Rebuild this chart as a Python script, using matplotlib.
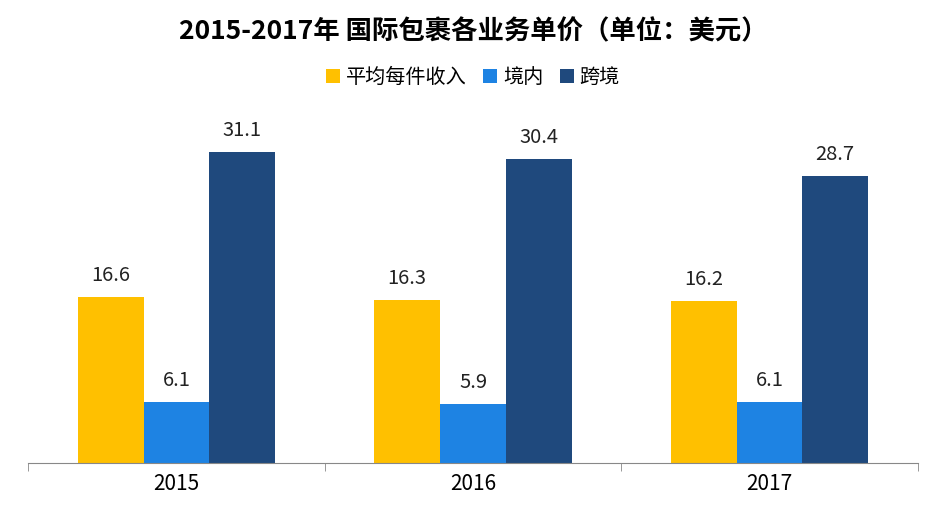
import matplotlib
matplotlib.use("Agg")
import matplotlib.pyplot as plt
import numpy as np

plt.rcParams['font.family'] = ['Noto Sans CJK SC', 'DejaVu Sans']

years = ["2015", "2016", "2017"]
series_names = ["平均每件收入", "境内", "跨境"]
avg = [16.6, 16.3, 16.2]
domestic = [6.1, 5.9, 6.1]
cross = [31.1, 30.4, 28.7]
colors = ["#FFC000", "#1E83E3", "#1F497D"]

fig = plt.figure(figsize=(9.46, 5.25), dpi=100)
ax = fig.add_axes([0.03, 0.118, 0.94, 0.667])
x = np.arange(len(years))
w = 0.222
for i, (vals, name, c) in enumerate(zip([avg, domestic, cross], series_names, colors)):
    bars = ax.bar(x + (i - 1) * w, vals, w, color=c, label=name)
    for b, v in zip(bars, vals):
        ax.text(b.get_x() + b.get_width() / 2, v + 1.1, f"{v}", ha='center', va='bottom', fontsize=14.5, color='#222222')

ax.set_xlim(-0.5, 2.5)
ax.set_ylim(0, 35)
ax.set_xticks(x)
ax.set_xticklabels(years, fontsize=15)
ax.set_xticks([-0.5, 0.5, 1.5, 2.5], minor=True)
ax.tick_params(axis='x', which='major', length=0, pad=7)
ax.tick_params(axis='x', which='minor', length=6, color='#888888')
ax.set_yticks([])
for s in ['left', 'right', 'top']:
    ax.spines[s].set_visible(False)
ax.spines['bottom'].set_color('#888888')

fig.text(0.5, 0.94, "2015-2017年 国际包裹各业务单价（单位：美元）", ha='center', va='center', fontsize=19, fontweight='bold')
fig.legend(loc='center', bbox_to_anchor=(0.5, 0.853), ncol=3, frameon=False, fontsize=14.5,
           handlelength=0.7, handleheight=0.7, handletextpad=0.3, columnspacing=0.8)
fig.savefig("out.png", dpi=100)
